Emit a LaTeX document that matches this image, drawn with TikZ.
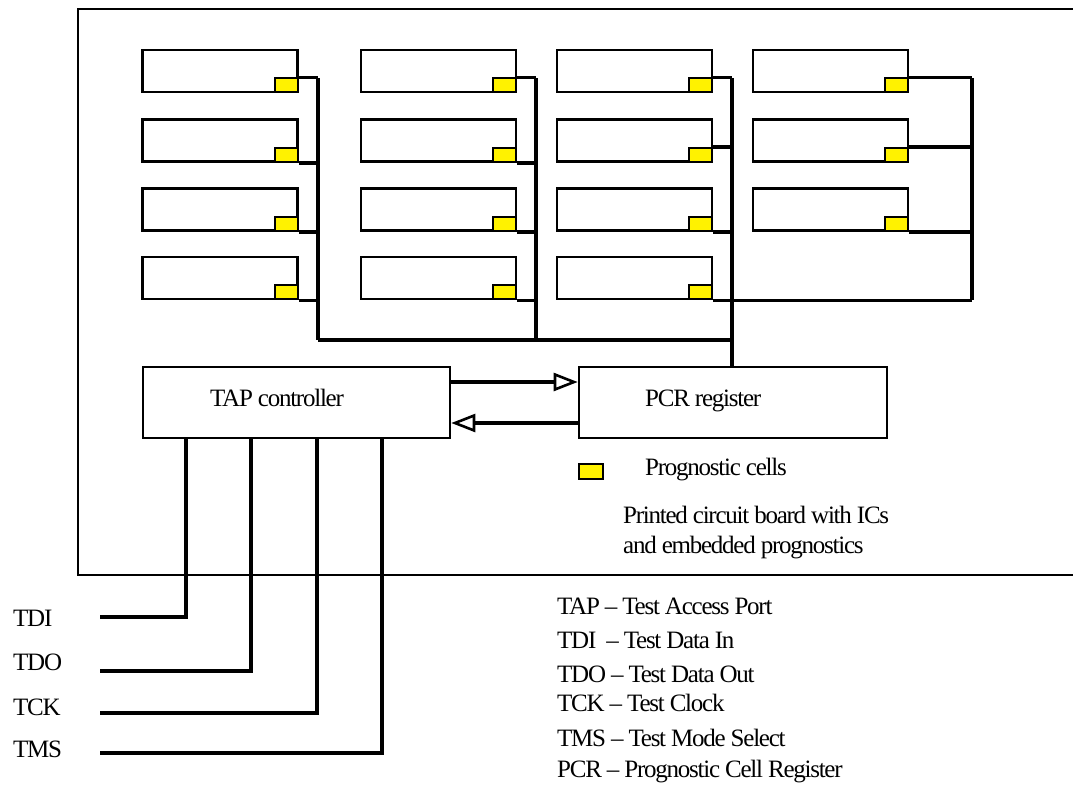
\documentclass[tikz,border=0pt]{standalone}
\usepackage{fontspec}
\setmainfont{Liberation Serif}[LetterSpace=-5]
\usetikzlibrary{arrows.meta}
\begin{document}
\begin{tikzpicture}[x=1pt,y=-1pt,
 ic/.style={draw, line width=2.6pt, minimum width=155pt, minimum height=42pt, inner sep=0pt, fill=white},
 cell/.style={draw, line width=2pt, fill=yellow, minimum width=23pt, minimum height=14pt, inner sep=0pt, anchor=south east},
 bus/.style={line width=4.5pt},
 wire/.style={line width=3.4pt},
 pin/.style={line width=4pt},
 ctrl/.style={draw, line width=2.6pt, minimum width=307pt, minimum height=71pt, inner sep=0pt},
 lbl/.style={font=\fontsize{25}{25}\selectfont, anchor=base west, inner sep=0pt},
 arr/.style={line width=4pt, -{Triangle[open, length=24pt, width=18pt, line width=2.6pt]}}
]
\useasboundingbox (0,0) rectangle (1073,785);
% board outline
\draw[line width=2.4pt] (1073,575) -- (78,575) -- (78,9) -- (1073,9);
% ICs
\foreach \n/\x/\y in {11/220/71, 12/220/140.5, 13/220/209.5, 14/220/278,
  21/438.5/71, 22/438.5/140.5, 23/438.5/209.5, 24/438.5/278,
  31/634.5/71, 32/634.5/140.5, 33/634.5/209.5, 34/634.5/278,
  41/830.5/71, 42/830.5/140.5, 43/830.5/209.5}{
  \node[ic] (b\n) at (\x,\y) {};
  \node[cell] (c\n) at (b\n.south east) {};
}
% bus coordinates
\coordinate (k1) at (318,78);
\coordinate (k2) at (536,78);
\coordinate (k3) at (732,78);
\coordinate (k4) at (972,78);
\coordinate (hb) at (0,340);
% controller and register
\node[ctrl] (TAP) at (296.5,402.5) {};
\node[ctrl, minimum width=308pt] (PCR) at (733,402.5) {};
% column 1
\draw[wire] (c11.north east) -- (c11.north east -| k1);
\draw[wire] (c12.south east) -- (c12.south east -| k1);
\draw[wire] (c13.south east) -- (c13.south east -| k1);
\draw[wire] (c14.south east) -- (c14.south east -| k1);
\draw[bus] (k1) -- (k1 |- hb);
% column 2
\draw[wire] (c21.north east) -- (c21.north east -| k2);
\draw[wire] (c22.south east) -- (c22.south east -| k2);
\draw[wire] (c23.south east) -- (c23.south east -| k2);
\draw[wire] (c24.south east) -- (c24.south east -| k2);
\draw[bus] (k2) -- (k2 |- hb);
% column 3
\draw[wire] (c31.north east) -- (c31.north east -| k3);
\draw[wire] (c32.north east) -- (c32.north east -| k3);
\draw[wire] (c33.south east) -- (c33.south east -| k3);
\draw[bus] (k3) -- (k3 |- PCR.north);
% column 4
\draw[wire] (c41.north east) -- (c41.north east -| k4);
\draw[wire] (c42.north east) -- (c42.north east -| k4);
\draw[wire] (c43.south east) -- (c43.south east -| k4);
\draw[wire] (c34.south east) -- (c34.south east -| k4);
\draw[bus] (k4) -- (k4 |- c34.south east);
% main horizontal bus
\draw[bus] (k1 |- hb) -- (k3 |- hb);
% arrows between TAP and PCR
\coordinate (ya) at (0,382);
\coordinate (yb) at (0,423);
\draw[arr] (TAP.east |- ya) -- (PCR.west |- ya);
\draw[arr] (PCR.west |- yb) -- (TAP.east |- yb);
% texts in boxes
\node[lbl] (tTAP) at (210,406) {TAP controller};
\node[lbl] (tPCR) at (645,406) {PCR register};
% legend
\node[cell, anchor=center, minimum width=24pt, minimum height=15pt] (leg) at (591,471.5) {};
\node[lbl] (tleg) at (645,475) {Prognostic cells};
\node[lbl] (pcb1) at (623,523) {Printed circuit board with ICs};
\node[lbl] (pcb2) at (623,553) {and embedded prognostics};
% TAP pins
\coordinate (pTDI) at (100,617);
\coordinate (pTDO) at (100,671);
\coordinate (pTCK) at (100,713);
\coordinate (pTMS) at (100,753);
\draw[pin] ([xshift=44pt]TAP.south west) |- (pTDI);
\draw[pin] ([xshift=109pt]TAP.south west) |- (pTDO);
\draw[pin] ([xshift=175pt]TAP.south west) |- (pTCK);
\draw[pin] ([xshift=240pt]TAP.south west) |- (pTMS);
\node[lbl] (lTDI) at (13,626) {TDI};
\node[lbl] (lTDO) at (13,670) {TDO};
\node[lbl] (lTCK) at (13,715) {TCK};
\node[lbl] (lTMS) at (13,757) {TMS};
% abbreviations
\node[lbl] (a1) at (557,614) {TAP -- Test Access Port};
\node[lbl] (a2) at (557,648) {TDI\ \ -- Test Data In};
\node[lbl] (a3) at (557,682) {TDO -- Test Data Out};
\node[lbl] (a4) at (557,711) {TCK -- Test Clock};
\node[lbl] (a5) at (557,746) {TMS -- Test Mode Select};
\node[lbl] (a6) at (557,777) {PCR -- Prognostic Cell Register};
\end{tikzpicture}
\end{document}
